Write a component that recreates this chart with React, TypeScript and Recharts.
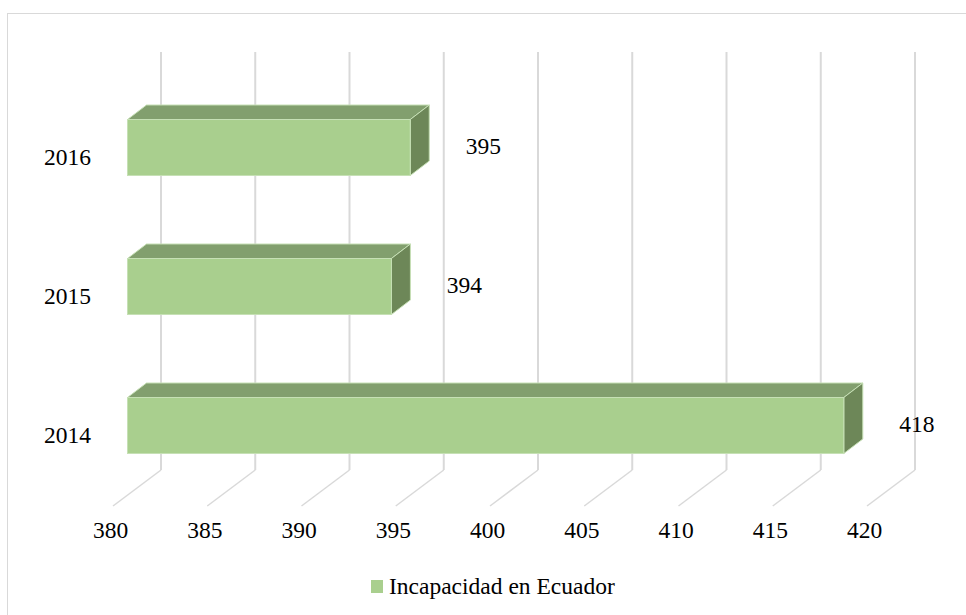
import React from 'react';
import { BarChart, Bar, XAxis, YAxis, CartesianGrid, Legend, LabelList } from 'recharts';

const years = ['2014', '2015', '2016'];
const incapacidad = [418, 394, 395];
const xTicks = [380, 385, 390, 395, 400, 405, 410, 415, 420];
const seriesName = 'Incapacidad en Ecuador';

const data = years.map((y, i) => ({ year: y, value: incapacidad[i] }));

const FONT = 'Liberation Serif, Tinos, Times New Roman, Times, DejaVu Serif, serif';
const FS = 23.5;
const DX = 19;
const DY = -14.5;
const FRONT = '#a9cf8e';
const TOP = '#829f6e';
const SIDE = '#6d8758';
const EDGE = '#c6e0b5';
const GRID = '#d9d9d9';

const Bar3D = (props: any) => {
  const { x, y, width, height } = props;
  if (width == null || height == null) return null;
  const r = x + width;
  const top = `${x},${y} ${r},${y} ${r + DX},${y + DY} ${x + DX},${y + DY}`;
  const side = `${r},${y} ${r + DX},${y + DY} ${r + DX},${y + height + DY} ${r},${y + height}`;
  return (
    <g>
      <polygon points={top} fill={TOP} stroke={EDGE} strokeWidth={1} strokeLinejoin="round" />
      <polygon points={side} fill={SIDE} stroke={EDGE} strokeWidth={1} strokeLinejoin="round" />
      <rect x={x} y={y} width={width} height={height} fill={FRONT} stroke={EDGE} strokeWidth={1} />
    </g>
  );
};

const GridLine = (props: any) => {
  const { x1, y1, y2 } = props;
  const bx = x1 + 33.5;
  const topY = y1 - 25.5;
  const botY = y2 - 24.5;
  return (
    <g key={props.key ?? `g-${x1}`}>
      <line x1={bx} y1={topY} x2={bx} y2={botY} stroke={GRID} strokeWidth={2} />
      <line x1={bx} y1={botY} x2={bx - 48} y2={botY + 36} stroke={GRID} strokeWidth={1.5} />
    </g>
  );
};

const XTick = (props: any) => {
  const { x, y, payload } = props;
  return (
    <text x={x - 17} y={y + 27.5} dy="0.35em" textAnchor="middle" style={{ fontFamily: FONT }} fontSize={FS} fill="#000">
      {payload.value}
    </text>
  );
};

const YTick = (props: any) => {
  const { x, y, payload } = props;
  return (
    <text x={x} y={y + 9.5} dy="0.35em" textAnchor="end" style={{ fontFamily: FONT }} fontSize={FS} fill="#000">
      {payload.value}
    </text>
  );
};

const ValueLabel = (props: any) => {
  const { x, y, width, height, value } = props;
  return (
    <text x={x + width + 73} y={y + height / 2 - 2} dy="0.35em" textAnchor="middle" style={{ fontFamily: FONT }} fontSize={FS} fill="#000">
      {value}
    </text>
  );
};

const LegendContent = () => (
  <div style={{ height: 40.5, display: 'flex', alignItems: 'flex-start', paddingLeft: 371, boxSizing: 'border-box' }}>
    <div style={{ display: 'flex', alignItems: 'center', marginTop: 0, height: 23 }}>
      <span style={{ display: 'inline-block', width: 12, height: 13, background: FRONT, marginRight: 6 }} />
      <span style={{ fontFamily: FONT, fontSize: FS, color: '#000', lineHeight: '23px' }}>{seriesName}</span>
    </div>
  </div>
);

export default function App() {
  return (
    <div style={{ position: 'absolute', left: 0, top: 0, width: 966, height: 615, background: '#fff', overflow: 'hidden', fontFamily: FONT }}>
      <div
        style={{
          position: 'absolute',
          left: 7,
          top: 13,
          width: 980,
          height: 640,
          borderTop: `1.5px solid ${GRID}`,
          borderLeft: `1.5px solid ${GRID}`,
          pointerEvents: 'none',
        }}
      />
      <BarChart
        width={966}
        height={615}
        data={data}
        layout="vertical"
        margin={{ top: 77.5, right: 84.5, bottom: 0, left: 0 }}
        barSize={56}
        style={{ fontFamily: FONT }}
      >
        <CartesianGrid horizontal={false} vertical={GridLine as any} />
        <XAxis
          type="number"
          domain={[380, 420]}
          ticks={xTicks}
          axisLine={false}
          tickLine={false}
          height={80}
          tick={<XTick />}
          interval={0}
        />
        <YAxis
          type="category"
          dataKey="year"
          reversed
          axisLine={false}
          tickLine={false}
          width={127.5}
          tickMargin={30.5}
          tick={<YTick />}
        />
        <Legend verticalAlign="bottom" wrapperStyle={{ left: 0, width: 966 }} content={<LegendContent />} />
        <Bar dataKey="value" name={seriesName} shape={<Bar3D />} isAnimationActive={false}>
          <LabelList dataKey="value" content={<ValueLabel />} />
        </Bar>
      </BarChart>
    </div>
  );
}
